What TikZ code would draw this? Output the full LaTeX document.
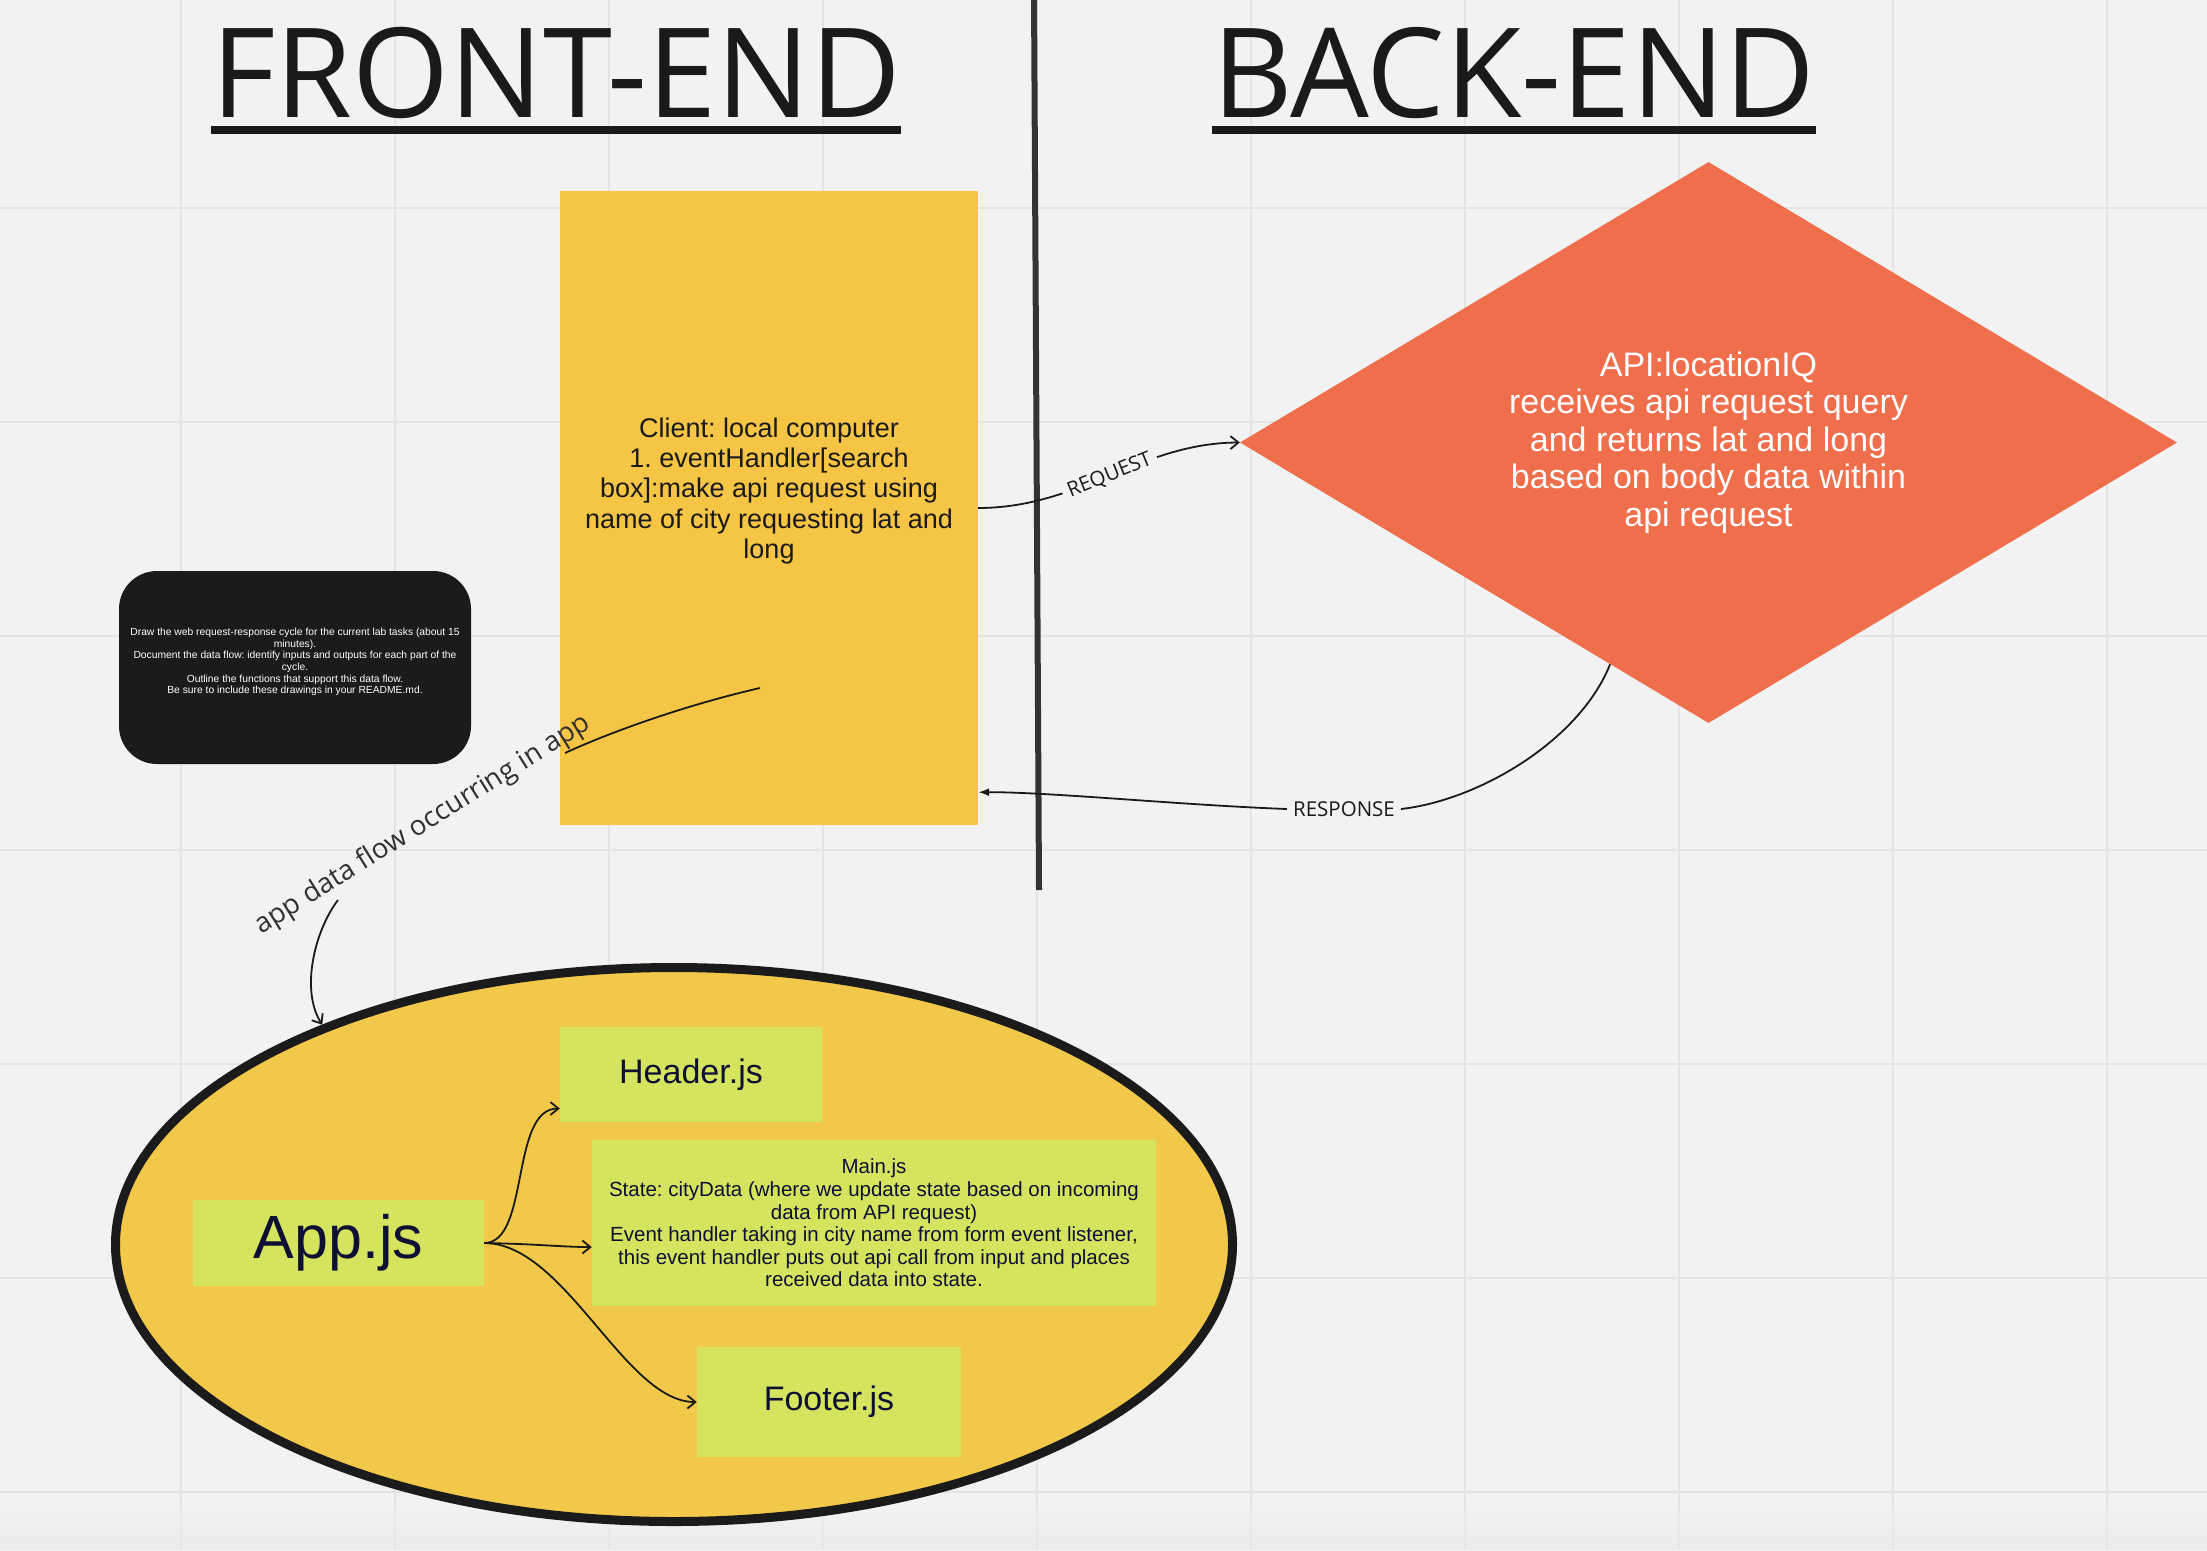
\documentclass[tikz,border=0pt]{standalone}
\usepackage{fontspec}
\setmainfont{Liberation Sans}
\newfontfamily\osans{Open Sans}
\usetikzlibrary{shapes.geometric,arrows.meta,calc}
\definecolor{bg}{HTML}{F2F2F2}
\definecolor{gridc}{HTML}{E4E4E4}
\definecolor{ink}{HTML}{1A1A1A}
\definecolor{navy}{HTML}{0E1033}
\definecolor{clienty}{HTML}{F6C545}
\definecolor{ellipsey}{HTML}{F2C84A}
\definecolor{apiorange}{HTML}{EF6E4B}
\definecolor{lime}{HTML}{D5E35F}
\definecolor{notebg}{HTML}{1B1B1B}
\definecolor{divider}{HTML}{333333}
\newcommand\fsz[2]{\fontsize{#1}{#2}\selectfont}
\frenchspacing
\tikzset{
  title/.style={inner sep=0pt, anchor=base west, text=ink, font=\osans\fsz{124.5}{140}},
  limebox/.style={fill=lime, inner sep=0pt, text=navy},
  conn/.style={draw=ink, line width=1.8pt, -{Straight Barb[length=8pt,width=13pt]}},
  plainconn/.style={draw=ink, line width=1.8pt},
  lbl/.style={text=ink, font=\osans\fsz{20.5}{24}, inner sep=6pt},
}
\begin{document}
\begin{tikzpicture}[x=1pt,y=-1pt]
\useasboundingbox (0,0) rectangle (2207,1550);
\clip (0,0) rectangle (2207,1550);
% background and grid
\fill[bg] (0,0) rectangle (2207,1550);
\foreach \gx in {181,395,609,823,1037,1251,1465,1679,1893,2107}
  \draw[gridc, line width=2pt] (\gx,0) -- (\gx,1550);
\foreach \gy in {208,422,636,850,1064,1278,1492}
  \draw[gridc, line width=2pt] (0,\gy) -- (2207,\gy);
\shade[top color=bg, bottom color=black!10, opacity=0.5] (0,1510) rectangle (2207,1550);

% titles
\node[title] (fe) at (211,117) {FRONT-END};
\draw[ink, line width=8pt] ([yshift=-13pt]fe.base west) -- ([yshift=-13pt]fe.base east);
\node[title] (be) at (1212,117) {BACK-END};
\draw[ink, line width=8pt] ([yshift=-13pt]be.base west) -- ([yshift=-13pt]be.base east);

% divider
\coordinate (divtop) at (1034,-5);
\coordinate (divbot) at (1039,890);
\draw[divider, line width=6pt] (divtop) -- (divbot);

% client box
\node[fill=clienty, minimum width=418pt, minimum height=634pt, inner sep=0pt] (client) at (769,508) {};
\node[align=center, text=ink, font=\fsz{27}{30.4}, inner sep=0pt] (clienttxt) at (769,491)
  {Client: local computer\\1. eventHandler[search\\box]:make api request using\\name of city requesting lat and\\long};

% API diamond
\node[diamond, aspect=1.67, fill=apiorange, minimum width=937pt, minimum height=561pt, inner sep=0pt,
      align=center, text=white, font=\fsz{34}{37.6}] (api) at (1708.5,442.5)
  {API:locationIQ\\receives api request query\\and returns lat and long\\based on body data within\\api request};

% note
\node[fill=notebg, rounded corners=38pt, minimum width=352pt, minimum height=193pt, inner sep=0pt] (note) at (295,667.5) {};
\node[align=center, text=white, font=\fsz{10.3}{11.6}, inner sep=0pt] (notetxt) at (295,662)
  {Draw the web request-response cycle for the current lab tasks (about 15\\minutes).\\Document the data flow: identify inputs and outputs for each part of the\\cycle.\\Outline the functions that support this data flow.\\Be sure to include these drawings in your README.md.};

% app ellipse
\node[ellipse, draw=notebg, line width=9pt, fill=ellipsey, minimum width=1117pt, minimum height=554pt, inner sep=0pt] (appflow) at (674,1244.5) {};

% lime boxes
\node[limebox, minimum width=291pt, minimum height=86pt, font=\fsz{61}{70}] (app) at (338.5,1243) {App.js};
\node[limebox, minimum width=262pt, minimum height=95pt, font=\fsz{34}{40}] (header) at (691,1074.5) {Header.js};
\node[limebox, minimum width=564pt, minimum height=166pt, align=center, font=\fsz{20.5}{22.6}] (main) at (874,1223)
  {Main.js\\State: cityData (where we update state based on incoming\\data from API request)\\Event handler taking in city name from form event listener,\\this event handler puts out api call from input and places\\received data into state.};
\node[limebox, minimum width=264pt, minimum height=110pt, font=\fsz{34}{40}] (footer) at (829,1402) {Footer.js};

% connectors inside ellipse
\draw[conn] (app.east) .. controls (530,1243) and (510,1108.5) .. ([yshift=-34pt]header.west);
\draw[conn] (app.east) .. controls (540,1244) and (560,1247) .. ([yshift=-24pt]main.west);
\draw[conn] (app.east) .. controls (565,1243) and (625,1402) .. (footer.west);

% request
\draw[conn] (client.east) .. controls (1080,508) and (1140,443) .. (api.west)
  node[midway, sloped, lbl, fill=bg] (reqlbl) {REQUEST};

% response
\node[lbl] (resplbl) at (1344,809) {RESPONSE};
\draw[plainconn] ($(api.west)!0.79!(api.south)$) .. controls (1580,740) and (1480,800) .. (resplbl.east);
\draw[plainconn, -{Latex[length=11pt,width=8pt]}] (resplbl.west) .. controls (1180,805) and (1050,792) .. ([yshift=33pt]client.south east);

% app data flow
\coordinate (flowstart) at (760,688);
\coordinate (fa) at (565,753);
\coordinate (fb) at (338,900);
\node[text=ink!90, font=\osans\fsz{27.5}{32}, inner sep=0pt, rotate=32] (flowlbl) at (423,825) {app data flow occurring in app};
\draw[plainconn] (flowstart) .. controls (690,704) and (615,730) .. (fa);
\draw[conn] (fb) .. controls (315,930) and (300,990) .. (appflow.148);
\end{tikzpicture}
\end{document}
